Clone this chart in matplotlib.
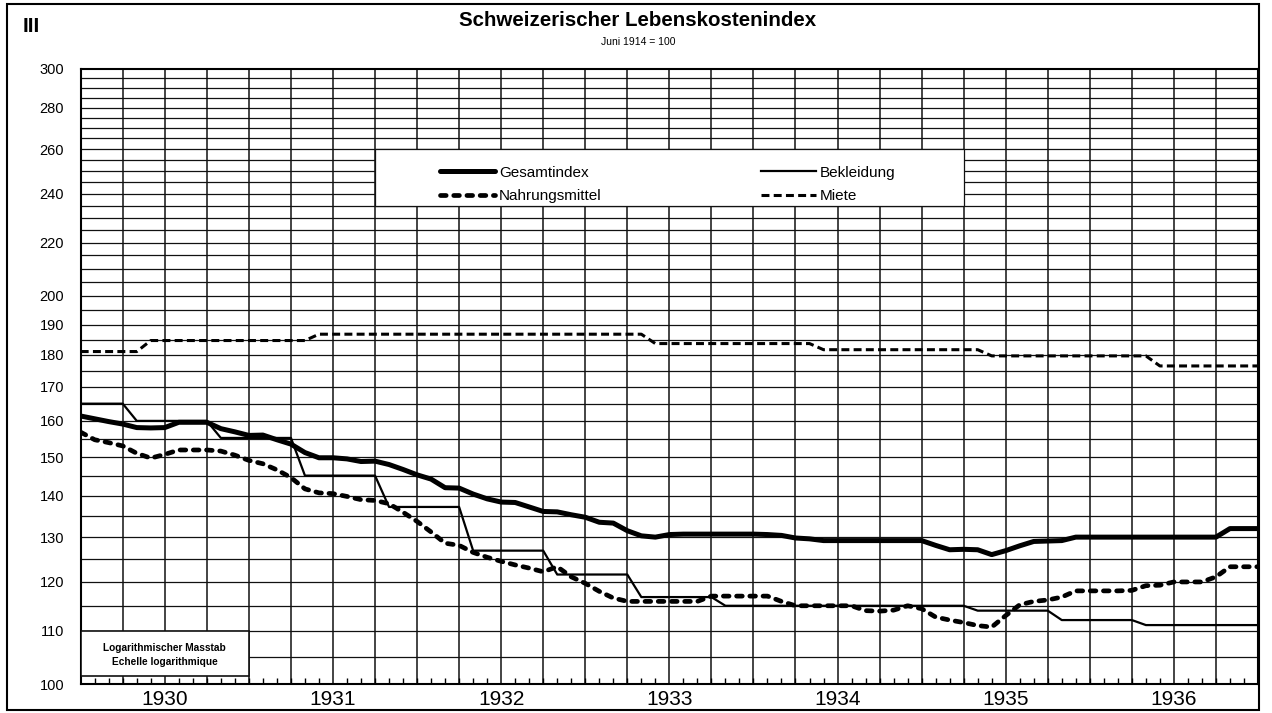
import numpy as np
import matplotlib
matplotlib.use("Agg")
import matplotlib.pyplot as plt
from matplotlib.patches import Rectangle

plt.rcParams['font.family'] = ['Liberation Sans', 'DejaVu Sans']

# monthly values, Jan 1930 .. Jan 1937 (85 points)
months = 1930 + np.arange(85) / 12

gesamtindex = [
    161.4, 160.6, 159.8, 159.1, 158.1, 158.0, 158.1, 159.6, 159.6, 159.6, 157.8, 156.9,
    155.9, 156.0, 154.7, 153.5, 151.2, 149.8, 149.8, 149.5, 148.8, 148.9, 148.0, 146.7,
    145.3, 144.2, 142.0, 141.9, 140.4, 139.2, 138.4, 138.3, 137.2, 136.1, 136.0, 135.3,
    134.7, 133.5, 133.3, 131.5, 130.3, 130.0, 130.6, 130.7, 130.7, 130.7, 130.7, 130.7,
    130.7, 130.6, 130.4, 129.8, 129.6, 129.2, 129.2, 129.2, 129.2, 129.2, 129.2, 129.2,
    129.2, 128.1, 127.1, 127.2, 127.1, 126.0, 126.9, 128.0, 129.0, 129.1, 129.2, 130.0,
    130.0, 130.0, 130.0, 130.0, 130.0, 130.0, 130.0, 130.0, 130.0, 130.0, 132.0, 132.0,
    132.0]

nahrungsmittel = [
    156.8, 154.7, 153.9, 153.0, 151.0, 149.7, 150.7, 151.9, 151.9, 151.9, 151.6, 150.5,
    149.1, 148.2, 146.6, 144.6, 141.7, 140.7, 140.5, 139.8, 139.0, 138.8, 138.0, 135.9,
    133.7, 131.2, 128.6, 128.1, 126.5, 125.4, 124.5, 123.7, 123.0, 122.2, 123.3, 121.1,
    119.7, 118.0, 116.6, 115.9, 115.9, 115.9, 115.9, 115.9, 115.9, 117.0, 117.0, 117.0,
    117.0, 117.0, 115.9, 115.0, 115.0, 115.0, 115.0, 115.0, 114.0, 113.9, 114.1, 115.0,
    114.4, 112.7, 112.1, 111.6, 111.0, 110.7, 113.0, 115.2, 115.9, 116.2, 116.8, 118.1,
    118.1, 118.1, 118.1, 118.2, 119.2, 119.3, 120.0, 120.0, 120.0, 121.1, 123.3, 123.3,
    123.3]

bekleidung = [
    165.0, 165.0, 165.0, 165.0, 160.0, 160.0, 160.0, 160.0, 160.0, 160.0, 155.2, 155.2,
    155.2, 155.2, 155.2, 155.2, 145.1, 145.1, 145.1, 145.1, 145.1, 145.1, 137.2, 137.2,
    137.2, 137.2, 137.2, 137.2, 126.9, 126.9, 126.9, 126.9, 126.9, 126.9, 121.6, 121.6,
    121.6, 121.6, 121.6, 121.6, 116.8, 116.8, 116.8, 116.8, 116.8, 116.8, 115.0, 115.0,
    115.0, 115.0, 115.0, 115.0, 115.0, 115.0, 115.0, 115.0, 115.0, 115.0, 115.0, 115.0,
    115.0, 115.0, 115.0, 115.0, 114.0, 114.0, 114.0, 114.0, 114.0, 114.0, 112.1, 112.1,
    112.1, 112.1, 112.1, 112.1, 111.1, 111.1, 111.1, 111.1, 111.1, 111.1, 111.1, 111.1,
    111.1]

miete = [
    181.1, 181.1, 181.1, 181.1, 181.1, 184.7, 184.7, 184.7, 184.7, 184.7, 184.7, 184.7,
    184.7, 184.7, 184.7, 184.7, 184.7, 186.8, 186.8, 186.8, 186.8, 186.8, 186.8, 186.8,
    186.8, 186.8, 186.8, 186.8, 186.8, 186.8, 186.8, 186.8, 186.8, 186.8, 186.8, 186.8,
    186.8, 186.8, 186.8, 186.8, 186.8, 183.7, 183.7, 183.7, 183.7, 183.7, 183.7, 183.7,
    183.7, 183.7, 183.7, 183.7, 183.7, 181.7, 181.7, 181.7, 181.7, 181.7, 181.7, 181.7,
    181.7, 181.7, 181.7, 181.7, 181.7, 179.7, 179.7, 179.7, 179.7, 179.7, 179.7, 179.7,
    179.7, 179.7, 179.7, 179.7, 179.7, 176.5, 176.5, 176.5, 176.5, 176.5, 176.5, 176.5,
    176.5]

years = [1930, 1931, 1932, 1933, 1934, 1935, 1936]
y_ticks = [100, 110, 120, 130, 140, 150, 160, 170, 180, 190, 200, 220, 240, 260, 280, 300]

fig = plt.figure(figsize=(12.72, 7.13), dpi=100)
ax = fig.add_axes([80.7 / 1272, 1 - 684 / 713, 1177.3 / 1272, 615 / 713])
ax.set_yscale('log')
ax.set_xlim(1930, 1937)
ax.set_ylim(100, 300)

# grid: every 5 points, every quarter
for v in range(105, 300, 5):
    ax.axhline(v, color='#111111', lw=0.9, zorder=1)
for q in np.arange(1930.25, 1937, 0.25):
    ax.axvline(q, color='#111111', lw=1.1, zorder=1)

# series
g, = ax.plot(months, gesamtindex, color='black', lw=3.6, solid_capstyle='round',
             solid_joinstyle='round', zorder=5, label='Gesamtindex')
n, = ax.plot(months, nahrungsmittel, color='black', lw=3.4, dashes=(1.2, 1.6),
             dash_capstyle='round', zorder=5, label='Nahrungsmittel')
b, = ax.plot(months, bekleidung, color='black', lw=1.6, zorder=5, label='Bekleidung')
m, = ax.plot(months, miete, color='black', lw=2.2, dashes=(2.6, 1.4), zorder=5,
             label='Miete')

# blank legend panel
ax.add_patch(Rectangle((1931.75, 235), 3.5, 25, facecolor='white',
                       edgecolor='#111111', lw=0.9, zorder=3))
leg = ax.legend(handles=[g, n, b, m], ncol=2, loc='upper left',
                bbox_to_anchor=(0.3055, 0.843), frameon=False, fontsize=11,
                borderpad=0, borderaxespad=0, handlelength=3.6, handletextpad=0.25,
                columnspacing=10.4, labelspacing=0.65)
leg.set_zorder(6)

# log-scale note
ax.add_patch(Rectangle((1930, 101.5), 1.0, 8.5, facecolor='white',
                       edgecolor='#111111', lw=1.2, zorder=3))
ax.text(1930.5, 105.4, 'Logarithmischer Masstab\nEchelle logarithmique',
        ha='center', va='center', fontsize=7.3, fontweight='bold',
        linespacing=1.5, zorder=6)

# axes
ax.set_yticks([], minor=True)
ax.set_yticks(y_ticks, [str(t) for t in y_ticks])
ax.tick_params(axis='y', which='major', length=0, pad=12, labelsize=10.5)
ax.set_xticks([yr + 0.5 for yr in years], [str(yr) for yr in years])
ax.set_xticks(months[1:-1], minor=True)
ax.tick_params(axis='x', which='major', length=0, pad=4, labelsize=15)
ax.tick_params(axis='x', which='minor', direction='in', length=4.5, width=1.0)
for s in ax.spines.values():
    s.set_linewidth(1.5)

# frame and headings
fig.add_artist(Rectangle((7 / 1272, 1 - 710 / 713), (1258.5 - 7) / 1272, 706 / 713,
                         transform=fig.transFigure, fill=False, lw=1.5,
                         edgecolor='black'))
fig.text(638 / 1272, 1 - 20 / 713, 'Schweizerischer Lebenskostenindex',
         ha='center', va='center', fontsize=14.8, fontweight='bold')
fig.text(638 / 1272, 1 - 42 / 713, 'Juni 1914 = 100', ha='center', va='center',
         fontsize=7.5)
fig.text(31 / 1272, 1 - 26 / 713, 'III', ha='center', va='center', fontsize=15,
         fontweight='bold')

fig.savefig('out.png', dpi=100)
